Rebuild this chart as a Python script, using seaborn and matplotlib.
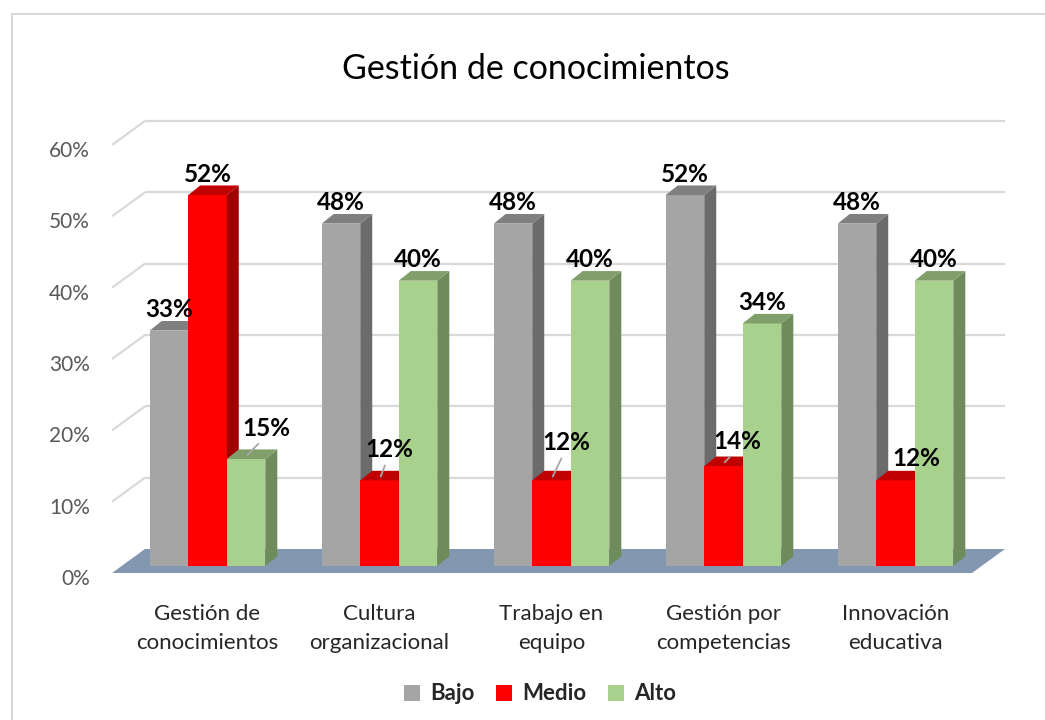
import matplotlib
matplotlib.use("Agg")
import matplotlib.pyplot as plt
from matplotlib.patches import Polygon, Rectangle, Patch
import numpy as np
import pandas as pd
import seaborn as sns

# ---------------- data ----------------
categories = ["Gestión de\nconocimientos", "Cultura\norganizacional", "Trabajo en\nequipo",
              "Gestión por\ncompetencias", "Innovación\neducativa"]
levels = ["Bajo", "Medio", "Alto"]
bajo = [0.33, 0.48, 0.48, 0.52, 0.48]
medio = [0.52, 0.12, 0.12, 0.14, 0.12]
alto = [0.15, 0.40, 0.40, 0.34, 0.40]
y_ticks = [0.0, 0.1, 0.2, 0.3, 0.4, 0.5, 0.6]
y_tick_labels = ["0%", "10%", "20%", "30%", "40%", "50%", "60%"]
title = "Gestión de conocimientos"

# ---------------- style ----------------
front_colors = ["#a5a5a5", "#ff0000", "#a9d18e"]
side_colors = ["#6b6b6b", "#a00000", "#6e8b5b"]
top_colors = ["#7f7f7f", "#c00000", "#809f6b"]
grid_color = "#d9d9d9"
floor_color = "#8497b0"
# manual label offsets in pixels (dx, dy up) relative to bar front-top centre
default_off = (0, 21)
label_offsets = {(0, "Alto"): (20, 31, True), (1, "Medio"): (10, 31, True),
                 (2, "Medio"): (15, 38, True), (3, "Medio"): (14, 25, True),
                 (4, "Medio"): (21, 22, False)}

sns.set_style("white")
plt.rcParams["font.family"] = ["Lato", "DejaVu Sans"]

series = {"Bajo": bajo, "Medio": medio, "Alto": alto}
df = pd.DataFrame([(c, lv, v) for lv in levels for c, v in zip(categories, series[lv])],
                  columns=["Dimensión", "Nivel", "Porcentaje"])

W_PX, H_PX = 1045, 720
fig = plt.figure(figsize=(W_PX / 100, H_PX / 100), dpi=100)
fig.patch.set_facecolor("white")

# bar plane axes (pixels)
left_px, right_px, base_px, top_px = 121.5, 981.5, 566, 138
L = left_px / W_PX
Wd = (right_px - left_px) / W_PX
B = (H_PX - base_px) / H_PX
Hd = (base_px - top_px) / H_PX
ax = fig.add_axes([L, B, Wd, Hd])

sns.barplot(data=df, x="Dimensión", y="Porcentaje", hue="Nivel", hue_order=levels,
            order=categories, palette=front_colors, width=0.672, saturation=1,
            errorbar=None, legend=False, linewidth=0, ax=ax)
bars = [p for p in ax.patches if isinstance(p, Rectangle) and p.get_height() > 0]
ax.set_xlim(-0.5, 4.5)
ax.set_ylim(0, 0.6)
ax.set_xlabel("")
ax.set_ylabel("")
ax.set_yticks([])
for s in ax.spines.values():
    s.set_visible(False)
ax.patch.set_visible(False)
ax.set_xticks(range(len(categories)))
ax.set_xticklabels(categories, fontsize=16, color="#262626", linespacing=1.62)
ax.tick_params(axis="x", length=0, pad=27)


def px_to_data(dx, dy):
    p0 = ax.transData.transform((0, 0))
    d = ax.transData.inverted().transform(p0 + np.array([dx, dy]))
    return d[0], d[1]


bdx, bdy = px_to_data(23.5, 17)     # back wall
fdx, fdy = px_to_data(-9.5, -7)     # front edge
ddx, ddy = px_to_data(12, 9.6)      # bar depth

# gridlines (back wall + left wall)
for v in y_ticks[1:]:
    ax.plot([-0.5 + bdx, 4.5 + bdx], [v + bdy, v + bdy], color=grid_color, lw=1.6,
            clip_on=False, zorder=0.5, solid_capstyle="butt")
    ax.plot([-0.5 + fdx, -0.5 + bdx], [v + fdy, v + bdy], color=grid_color, lw=1.6,
            clip_on=False, zorder=0.5, solid_capstyle="butt")

# floor
ax.add_patch(Polygon([(-0.5 + fdx, fdy), (4.5 + fdx, fdy), (4.5 + bdx, bdy), (-0.5 + bdx, bdy)],
                     closed=True, facecolor=floor_color, edgecolor="none", zorder=1,
                     clip_on=False))

# 3D faces on the seaborn bars
for i, p in enumerate(bars):
    k = i // len(categories)
    ci = i % len(categories)
    x, w, h = p.get_x(), p.get_width(), p.get_height()
    p.set_zorder(2 + k)
    p.set_clip_on(False)
    side = Polygon([(x + w, 0), (x + w, h), (x + w + ddx, h + ddy), (x + w + ddx, ddy)],
                   closed=True, facecolor=side_colors[k], edgecolor="none", zorder=2 + k,
                   clip_on=False)
    topf = Polygon([(x, h), (x + w, h), (x + w + ddx, h + ddy), (x + ddx, h + ddy)],
                   closed=True, facecolor=top_colors[k], edgecolor="none", zorder=2 + k,
                   clip_on=False)
    ax.add_patch(side)
    ax.add_patch(topf)

    lv = levels[k]
    offx, offy, leader = label_offsets.get((ci, lv), (default_off[0], default_off[1], False))
    cx = x + w / 2
    tx_d, ty_d = px_to_data(offx, offy)
    txt = f"{h * 100:.0f}%"
    if leader:
        ax.annotate(txt, xy=(cx + ddx * 0.1, h + ddy * 0.4), xytext=(cx + tx_d, h + ty_d),
                    textcoords="data", ha="center", va="center", fontsize=17.5,
                    fontweight="bold", color="black", zorder=10, annotation_clip=False,
                    arrowprops=dict(arrowstyle="-", color="#a6a6a6", lw=1.3,
                                    shrinkA=1, shrinkB=0, relpos=(0.45, 0.05)))
    else:
        ax.text(cx + tx_d, h + ty_d, txt, ha="center", va="center", fontsize=17.5,
                fontweight="bold", color="black", zorder=10, clip_on=False)

# y tick labels (front plane)
ax2 = fig.add_axes([L, B - 11 / H_PX, Wd, Hd])
ax2.set_ylim(0, 0.6)
ax2.set_yticks(y_ticks)
ax2.set_yticklabels(y_tick_labels)
ax2.set_xticks([])
ax2.tick_params(axis="y", length=0, pad=22.7, labelsize=15, labelcolor="#595959")
for s in ax2.spines.values():
    s.set_visible(False)
ax2.patch.set_visible(False)

# title
fig.text(536 / W_PX, 1 - 69 / H_PX, title, ha="center", va="center", fontsize=24.5,
         color="#000000")

# legend
handles = [Patch(facecolor=c, edgecolor="none", label=lv) for c, lv in zip(front_colors, levels)]
fig.legend(handles=handles, loc="center", bbox_to_anchor=(540 / W_PX, 1 - 694 / H_PX), ncol=3,
           frameon=False, prop={"weight": "bold", "size": 16}, handlelength=0.7,
           handleheight=0.7, handletextpad=0.45, columnspacing=1.0)

# chart border
fig.add_artist(Rectangle((11.5 / W_PX, -0.1), 1.2, (H_PX - 13.5) / H_PX + 0.1,
                         transform=fig.transFigure, fill=False, edgecolor=grid_color,
                         lw=1.5))

fig.savefig("out.png", dpi=100)
